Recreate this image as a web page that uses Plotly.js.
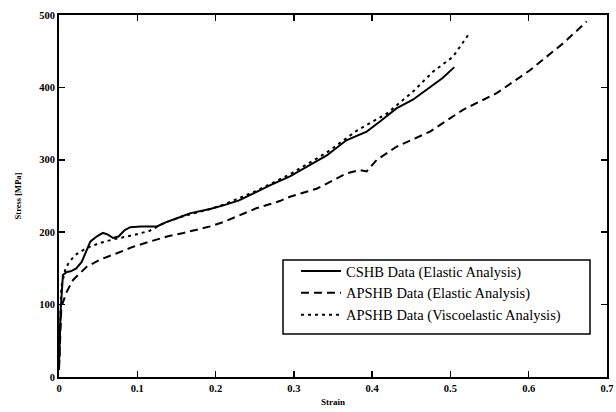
<!DOCTYPE html>
<html>
<head>
<meta charset="utf-8">
<script src="https://cdn.plot.ly/plotly-3.0.1.min.js"></script>
<style>html,body{margin:0;padding:0;background:#fff;}#chart{width:616px;height:412px;}</style>
</head>
<body>
<div id="chart"></div>
<script>
// CSHB Data (Elastic Analysis) - solid
var cshbStrain = [0, 0.002, 0.005, 0.01, 0.015, 0.022, 0.029, 0.035, 0.04, 0.048, 0.056, 0.062, 0.069, 0.076, 0.084, 0.091, 0.105, 0.125, 0.137, 0.155, 0.167, 0.193, 0.21, 0.23, 0.252, 0.27, 0.295, 0.316, 0.342, 0.367, 0.393, 0.41, 0.431, 0.452, 0.474, 0.49, 0.505];
var cshbStress = [15, 90, 141, 145, 146, 150, 159, 175, 187, 194, 199, 197, 192, 194, 203, 207, 208, 208, 214, 221, 226, 232, 237, 244, 256, 265, 277, 290, 306, 327, 339, 353, 371, 383, 401, 413, 428];

// APSHB Data (Elastic Analysis) - dashed
var apElStrain = [0, 0.003, 0.01, 0.018, 0.035, 0.052, 0.074, 0.095, 0.116, 0.138, 0.159, 0.193, 0.21, 0.252, 0.282, 0.295, 0.329, 0.367, 0.384, 0.393, 0.406, 0.431, 0.474, 0.516, 0.559, 0.602, 0.644, 0.674];
var apElStress = [10, 97, 118, 134, 152, 162, 171, 180, 187, 194, 199, 208, 214, 233, 243, 249, 260, 281, 286, 284, 300, 318, 339, 369, 392, 424, 461, 491];

// APSHB Data (Viscoelastic Analysis) - dotted
var apViStrain = [0, 0.003, 0.008, 0.012, 0.02, 0.035, 0.052, 0.069, 0.095, 0.116, 0.133, 0.155, 0.193, 0.21, 0.252, 0.295, 0.342, 0.38, 0.419, 0.452, 0.478, 0.503, 0.525];
var apViStress = [10, 125, 148, 157, 168, 178, 185, 190, 196, 202, 212, 221, 232, 238, 257, 280, 310, 340, 364, 394, 422, 442, 476];

var seriesNames = ['CSHB Data (Elastic Analysis)', 'APSHB Data (Elastic Analysis)', 'APSHB Data (Viscoelastic Analysis)'];
var xTickVals = [0, 0.1, 0.2, 0.3, 0.4, 0.5, 0.6, 0.7];
var xTickText = ['0', '0.1', '0.2', '0.3', '0.4', '0.5', '0.6', '0.7'];
var yTickVals = [0, 100, 200, 300, 400, 500];
var yTickText = ['0', '100', '200', '300', '400', '500'];

var serif = 'Liberation Serif, Times New Roman, serif';

var traces = [
  {x: cshbStrain, y: cshbStress, name: seriesNames[0], mode: 'lines',
   line: {color: '#000', width: 2, dash: 'solid'}},
  {x: apElStrain, y: apElStress, name: seriesNames[1], mode: 'lines',
   line: {color: '#000', width: 2, dash: '8px,5px'}},
  {x: apViStrain, y: apViStress, name: seriesNames[2], mode: 'lines',
   line: {color: '#000', width: 2, dash: '3px,4px'}}
];

var axisCommon = {
  showgrid: false, zeroline: false, showline: true, linecolor: '#000', linewidth: 2,
  mirror: 'ticks', ticks: 'inside', ticklen: 6, tickwidth: 1.5, tickcolor: '#000',
  tickfont: {family: serif, size: 10.5, color: '#000', weight: 'bold'}
};

var layout = {
  width: 616, height: 412,
  margin: {l: 59, r: 9, t: 15, b: 35},
  paper_bgcolor: '#fff', plot_bgcolor: '#fff',
  showlegend: true,
  legend: {
    x: 0.4325, y: 0.337, xanchor: 'left', yanchor: 'top',
    bgcolor: 'rgba(0,0,0,0)', borderwidth: 0,
    font: {family: serif, size: 14.5, color: '#000'},
    itemwidth: 40
  },
  xaxis: Object.assign({}, axisCommon, {
    range: [0, 0.7], tickvals: xTickVals, ticktext: xTickText,
    title: {text: 'Strain', font: {family: serif, size: 9, color: '#000', weight: 'bold'}, standoff: 6}
  }),
  yaxis: Object.assign({}, axisCommon, {
    range: [0, 500], tickvals: yTickVals, ticktext: yTickText,
    title: {text: 'Stress [MPa]', font: {family: serif, size: 8.5, color: '#000', weight: 'bold'}, standoff: 16}
  }),
  shapes: [{
    type: 'rect', xref: 'paper', yref: 'paper',
    x0: 0.4088, x1: 0.969, y0: 0.1188, y1: 0.3232,
    line: {color: '#000', width: 1.5}, fillcolor: 'rgba(0,0,0,0)'
  }]
};

Plotly.newPlot('chart', traces, layout, {displayModeBar: false, staticPlot: true});
</script>
</body>
</html>
